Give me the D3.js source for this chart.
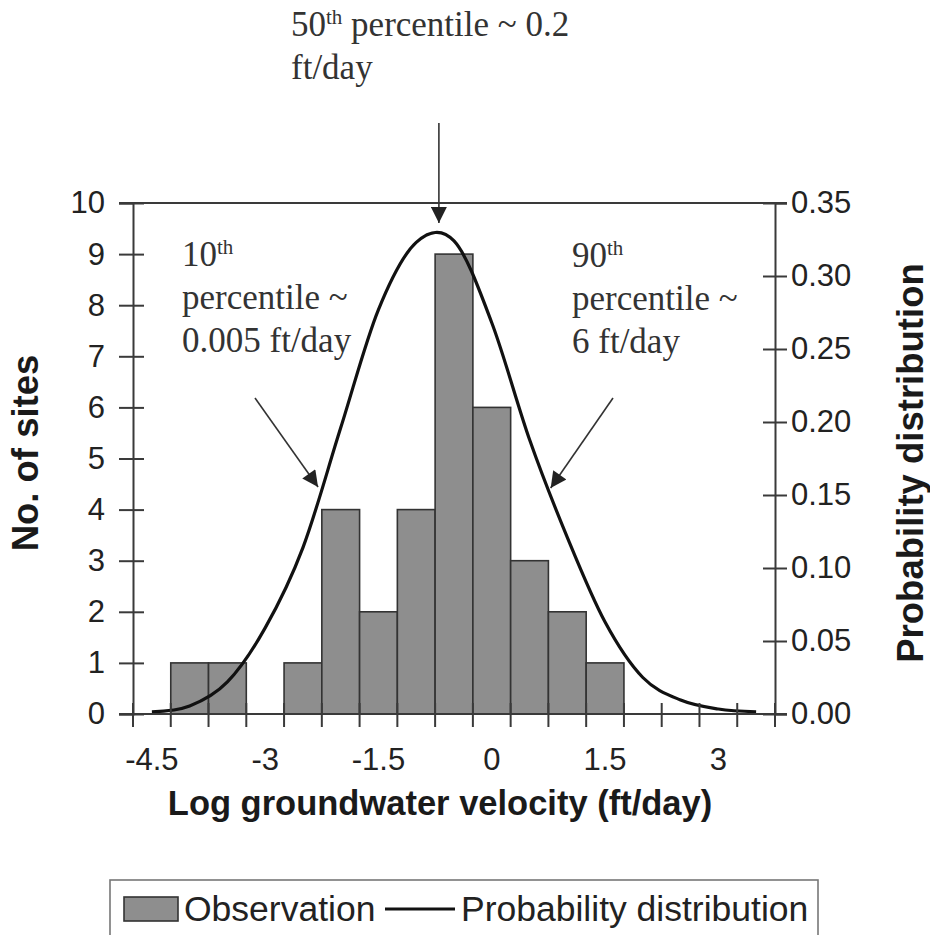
<!DOCTYPE html>
<html><head><meta charset="utf-8">
<script src="https://cdn.jsdelivr.net/npm/d3@7"></script>
<style>body{margin:0;background:#fff}svg{display:block}</style>
</head><body>
<svg id="c" width="930" height="935"></svg>
<script>
// ---- data ----
const categories = ["-4.5","-4","-3.5","-3","-2.5","-2","-1.5","-1","-0.5","0","0.5","1","1.5","2","2.5","3","3.5"];
const observationCounts = [0,1,1,0,1,4,2,4,9,6,3,2,1,0,0,0,0];
const probabilityValues = [0.0015,0.0055,0.022,0.059,0.114,0.196,0.277,0.323,0.324,0.268,0.188,0.121,0.063,0.025,0.0096,0.0034,0.0015];
const xTickLabels = ["-4.5","-3","-1.5","0","1.5","3"];
const leftTicks = [0,1,2,3,4,5,6,7,8,9,10];
const rightTicks = [0,0.05,0.10,0.15,0.20,0.25,0.30,0.35];
const percentileNotes = [
  {lines:[["50","th"," percentile ~ 0.2"],["ft/day"]], at:-0.7},
  {lines:[["10","th"],["percentile ~"],["0.005 ft/day"]], at:-2.3},
  {lines:[["90","th"],["percentile ~"],["6 ft/day"]], at:0.78}
];

// ---- layout ----
const L = 133, R = 775, T = 203, B = 714;
const svg = d3.select("#c");
const axisColor = "#3a3a3a";
const sans = "'Liberation Sans', Arial, sans-serif";
const serif = "'Liberation Serif', 'Times New Roman', serif";

const x = d3.scaleBand().domain(categories).range([L, R]).paddingInner(0).paddingOuter(0);
const xv = d3.scaleLinear().domain([-4.5, 3.5]).range([x("-4.5") + x.bandwidth()/2, x("3.5") + x.bandwidth()/2]);
const yL = d3.scaleLinear().domain([0, 10]).range([B, T]);
const yR = d3.scaleLinear().domain([0, 0.35]).range([B, T]);

// bars
svg.append("g").selectAll("rect")
  .data(categories.map((c,i)=>({c, v:observationCounts[i]})).filter(d=>d.v>0))
  .join("rect")
  .attr("x", d=>x(d.c)).attr("width", x.bandwidth())
  .attr("y", d=>yL(d.v)).attr("height", d=>B - yL(d.v))
  .attr("fill", "#8e8e8e").attr("stroke", "#333").attr("stroke-width", 1.6);

// curve
const line = d3.line()
  .x((d,i)=>x(categories[i]) + x.bandwidth()/2)
  .y(d=>yR(d))
  .curve(d3.curveCardinal.tension(0));
svg.append("path").datum(probabilityValues).attr("d", line)
  .attr("fill","none").attr("stroke","#111").attr("stroke-width",3.2);

// top border
svg.append("line").attr("x1", L-14).attr("x2", R+12).attr("y1", T).attr("y2", T)
  .attr("stroke", axisColor).attr("stroke-width", 2);

function styleAxis(g){
  g.select(".domain").attr("stroke", axisColor).attr("stroke-width", 2);
  g.selectAll(".tick line").attr("stroke", axisColor).attr("stroke-width", 2);
  g.selectAll("text").attr("fill","#222").style("font-family", sans).style("font-size","31px");
}

// left axis
const gL = svg.append("g").attr("transform", `translate(${L},0)`)
  .call(d3.axisLeft(yL).tickValues(leftTicks).tickSize(14).tickPadding(14).tickFormat(d3.format("d")));
styleAxis(gL);
svg.append("g").attr("transform", `translate(${L},0)`)
  .call(d3.axisLeft(yL).tickValues(leftTicks).tickSize(-11).tickFormat(""))
  .call(g=>{g.select(".domain").remove(); g.selectAll(".tick line").attr("stroke",axisColor).attr("stroke-width",2);});

// right axis
const gR = svg.append("g").attr("transform", `translate(${R},0)`)
  .call(d3.axisRight(yR).tickValues(rightTicks).tickSize(12).tickPadding(4).tickFormat(d3.format(".2f")));
styleAxis(gR);
svg.append("g").attr("transform", `translate(${R},0)`)
  .call(d3.axisRight(yR).tickValues(rightTicks).tickSize(-12).tickFormat(""))
  .call(g=>{g.select(".domain").remove(); g.selectAll(".tick line").attr("stroke",axisColor).attr("stroke-width",2);});

// bottom axis: tick marks at band edges, labels at selected category centres
const edgeScale = d3.scaleLinear().domain([0, categories.length]).range([L, R]);
const edges = d3.range(categories.length + 1);
svg.append("line").attr("x1", L-14).attr("x2", R+12).attr("y1", B).attr("y2", B)
  .attr("stroke", axisColor).attr("stroke-width", 2);
svg.append("g").selectAll("line").data(edges).join("line")
  .attr("x1", d=>edgeScale(d)).attr("x2", d=>edgeScale(d))
  .attr("y1", B-11).attr("y2", B+13)
  .attr("stroke", axisColor).attr("stroke-width", 2);
const gB = svg.append("g").attr("transform", `translate(0,${B})`)
  .call(d3.axisBottom(x).tickValues(xTickLabels).tickSize(0).tickPadding(34));
gB.select(".domain").remove();
gB.selectAll("text").attr("fill","#222").style("font-family", sans).style("font-size","31px");

// axis titles
svg.append("text").attr("x", 440).attr("y", 815).attr("text-anchor","middle")
  .style("font-family", sans).style("font-weight","bold").style("font-size","34.5px").attr("fill","#1a1a1a")
  .text("Log groundwater velocity (ft/day)");
svg.append("text").attr("transform","translate(38,453) rotate(-90)").attr("text-anchor","middle")
  .style("font-family", sans).style("font-weight","bold").style("font-size","36.5px").attr("fill","#1a1a1a")
  .text("No. of sites");
svg.append("text").attr("transform","translate(923,463) rotate(-90)").attr("text-anchor","middle")
  .style("font-family", sans).style("font-weight","bold").style("font-size","36.5px").attr("fill","#1a1a1a")
  .text("Probability distribution");

// annotations
const noteColor = "#333";
function note(lines, x0, y0, lh){
  const t = svg.append("text")
    .style("font-family", serif).style("font-size","35px").attr("fill", noteColor);
  lines.forEach((parts, li)=>{
    const ly = y0 + li*lh;
    parts.forEach((p, pi)=>{
      const ts = t.append("tspan").text(p);
      if (pi === 0) ts.attr("x", x0);
      if (p === "th") ts.style("font-size","21px").attr("y", ly - 12);
      else ts.attr("y", ly);
    });
  });
}
note(percentileNotes[0].lines, 291, 36, 43);
note(percentileNotes[1].lines, 182, 266, 43);
note(percentileNotes[2].lines, 572, 267, 43);

// arrows
const defs = svg.append("defs");
defs.append("marker").attr("id","ah").attr("viewBox","0 0 10 10").attr("refX",10).attr("refY",5)
  .attr("markerWidth",20).attr("markerHeight",16).attr("markerUnits","userSpaceOnUse").attr("orient","auto")
  .append("path").attr("d","M0,0 L10,5 L0,10 Z").attr("fill","#222");
const arrows = [
  {x1: xv(percentileNotes[0].at), y1: 123, x2: xv(percentileNotes[0].at), y2: 223},
  {x1: 255, y1: 398, x2: xv(percentileNotes[1].at), y2: 487},
  {x1: 613, y1: 398, x2: xv(percentileNotes[2].at), y2: 488}
];
svg.append("g").selectAll("line").data(arrows).join("line")
  .attr("x1",d=>d.x1).attr("y1",d=>d.y1).attr("x2",d=>d.x2).attr("y2",d=>d.y2)
  .attr("stroke","#333").attr("stroke-width",1.6).attr("marker-end","url(#ah)");

// legend
const lg = svg.append("g");
lg.append("rect").attr("x",110).attr("y",880).attr("width",708).attr("height",70)
  .attr("fill","#fff").attr("stroke","#777").attr("stroke-width",1.6);
lg.append("rect").attr("x",124).attr("y",897).attr("width",54).attr("height",24)
  .attr("fill","#8e8e8e").attr("stroke","#333").attr("stroke-width",1.6);
lg.append("text").attr("x",184).attr("y",921).style("font-family",sans).style("font-size","35.5px").attr("fill","#222").text("Observation");
lg.append("line").attr("x1",385).attr("x2",455).attr("y1",909).attr("y2",909).attr("stroke","#111").attr("stroke-width",3);
lg.append("text").attr("x",461).attr("y",921).style("font-family",sans).style("font-size","35.5px").attr("fill","#222").text("Probability distribution");
</script>
</body></html>
